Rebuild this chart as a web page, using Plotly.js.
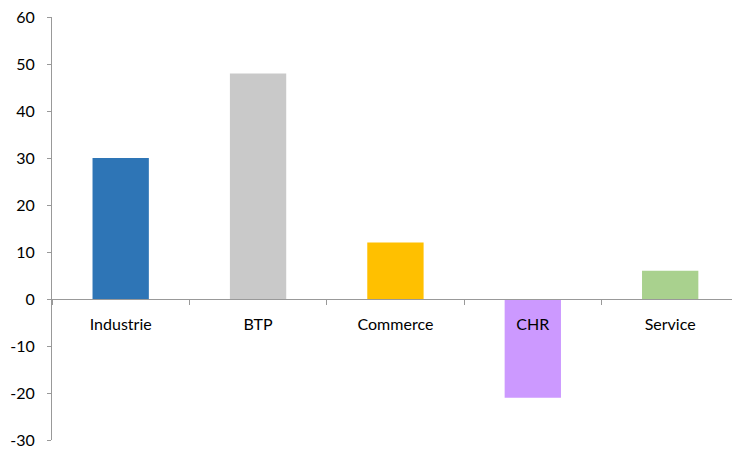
<!DOCTYPE html>
<html>
<head>
<meta charset="utf-8">
<script src="https://cdn.plot.ly/plotly-3.0.1.min.js"></script>
<style>html,body{margin:0;padding:0;background:#fff;}#chart{width:732px;height:451px;}</style>
</head>
<body>
<div id="chart"></div>
<script>
const categories = ["Industrie", "BTP", "Commerce", "CHR", "Service"];
const values = [30, 48, 12, -21, 6];
const barColors = ["#2E75B6", "#C9C9C9", "#FFC000", "#CC99FF", "#A9D18E"];
const yTickValues = [-30, -20, -10, 0, 10, 20, 30, 40, 50, 60];
const yTickLabels = ["-30", "-20", "-10", "0", "10", "20", "30", "40", "50", "60"];

const font = {family: "Lato, 'Open Sans', sans-serif", size: 16, color: "#000"};

Plotly.newPlot("chart", [{
  type: "bar",
  x: categories,
  y: values,
  width: 0.41,
  marker: {color: barColors},
  hoverinfo: "none"
}], {
  width: 732, height: 451,
  margin: {l: 52, r: 0, t: 17, b: 11},
  paper_bgcolor: "#fff", plot_bgcolor: "#fff",
  font: font,
  showlegend: false,
  xaxis: {
    type: "category",
    range: [-0.5, 4.45],
    anchor: "free", position: 1/3,
    showline: true, linecolor: "#999", linewidth: 1,
    ticks: "outside", tickson: "boundaries", ticklen: 5, tickcolor: "#999",
    showgrid: false, zeroline: false,
    ticklabelstandoff: 11,
    tickfont: font
  },
  yaxis: {
    range: [-30, 60],
    tickvals: yTickValues,
    ticktext: yTickLabels,
    showline: true, linecolor: "#999", linewidth: 1,
    ticks: "outside", ticklen: 4, tickcolor: "#999",
    showgrid: false, zeroline: false,
    ticklabelstandoff: 9,
    tickfont: font
  }
}, {staticPlot: true});
</script>
</body>
</html>
